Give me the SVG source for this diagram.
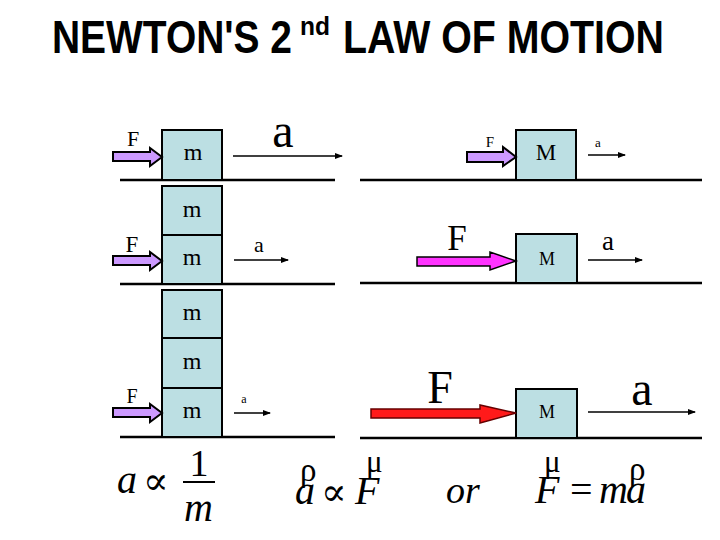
<svg xmlns="http://www.w3.org/2000/svg" width="720" height="540" viewBox="0 0 720 540">
<style>
.title{font-family:"Liberation Sans",Arial,sans-serif;font-weight:bold;fill:#000}
.t{font-family:"Liberation Serif","Times New Roman",serif;fill:#000;text-anchor:middle}
.eq{font-family:"Liberation Serif","Times New Roman",serif;font-style:italic;fill:#000}
.sym{font-family:"Liberation Serif","Times New Roman",serif;fill:#000}
.prop{font-family:"DejaVu Serif","DejaVu Sans",serif;fill:#000}
.blk{fill:#BCDFE3;stroke:#000;stroke-width:2}
.gnd{stroke:#000;stroke-width:2.5}
.thin{stroke:#000;stroke-width:1.5;fill:none;marker-end:url(#ah)}
.pf{fill:#CC99FF;stroke:#000;stroke-width:2}
.mf{fill:#FF33FF;stroke:#000;stroke-width:1.5}
.rf{fill:#FF1A1A;stroke:#600;stroke-width:1.5}
</style>
<defs>
<marker id="ah" markerWidth="8" markerHeight="6" refX="7" refY="3" orient="auto" markerUnits="userSpaceOnUse">
<path d="M0,0 L8,3 L0,6 Z" fill="#000"/>
</marker>
</defs>
<rect width="720" height="540" fill="#fff"/>
<g id="title">
<text class="title" x="52" y="53" font-size="46" textLength="240" lengthAdjust="spacingAndGlyphs">NEWTON'S 2</text>
<text class="title" x="300" y="35" font-size="26" textLength="30" lengthAdjust="spacingAndGlyphs">nd</text>
<text class="title" x="343" y="53" font-size="46" textLength="321" lengthAdjust="spacingAndGlyphs">LAW OF MOTION</text>
</g>
<g id="grounds">
<line class="gnd" x1="120" y1="180" x2="335" y2="180"/>
<line class="gnd" x1="120" y1="284" x2="335" y2="284"/>
<line class="gnd" x1="120" y1="437" x2="335" y2="437"/>
<line class="gnd" x1="360" y1="180" x2="702" y2="180"/>
<line class="gnd" x1="360" y1="283" x2="702" y2="283"/>
<line class="gnd" x1="360" y1="438" x2="702" y2="438"/>
</g>
<g id="block-top-left">
<rect class="blk" x="162" y="130" width="60" height="50"/>
<text class="t" x="193" y="160" font-size="24">m</text>
</g>
<g id="blocks-mid-left">
<rect class="blk" x="162" y="186" width="60" height="49"/>
<text class="t" x="192" y="217" font-size="24">m</text>
<rect class="blk" x="162" y="235" width="60" height="49"/>
<text class="t" x="192" y="265" font-size="24">m</text>
</g>
<g id="blocks-bottom-left">
<rect class="blk" x="162" y="290" width="60" height="48"/>
<text class="t" x="192" y="320" font-size="24">m</text>
<rect class="blk" x="162" y="338" width="60" height="50"/>
<text class="t" x="192" y="369" font-size="24">m</text>
<rect class="blk" x="162" y="388" width="60" height="49"/>
<text class="t" x="192" y="418" font-size="24">m</text>
</g>
<g id="block-top-right">
<rect class="blk" x="516" y="130" width="60" height="50"/>
<text class="t" x="546" y="160" font-size="23">M</text>
</g>
<g id="block-mid-right">
<rect class="blk" x="516" y="234" width="61" height="49"/>
<text class="t" x="547" y="265" font-size="18">M</text>
</g>
<g id="block-bottom-right">
<rect class="blk" x="516" y="389" width="61" height="49"/>
<text class="t" x="547" y="418" font-size="18">M</text>
</g>
<g id="connectors">
<polygon class="pf" points="113,152 150,152 150,148 162,157 150,166 150,161 113,161"/>
<polygon class="pf" points="113,256 150,256 150,252 162,261 150,270 150,265 113,265"/>
<polygon class="pf" points="113,408 150,408 150,404 162,413 150,422 150,417 113,417"/>
<polygon class="pf" points="467,152 503,152 503,147 516,157 503,166 503,162 467,162"/>
<polygon class="mf" points="417,257 490,257 490,252 516,261 490,270 490,266 417,266"/>
<polygon class="rf" points="371,409 480,409 480,405 516,413 480,423 480,418 371,418"/>
<line class="thin" x1="233" y1="156" x2="342" y2="156"/>
<line class="thin" x1="234" y1="260" x2="288" y2="260"/>
<line class="thin" x1="234" y1="413" x2="270" y2="413"/>
<line class="thin" x1="588" y1="155" x2="625" y2="155"/>
<line class="thin" x1="588" y1="260" x2="642" y2="260"/>
<line class="thin" x1="588" y1="412" x2="695" y2="412"/>
</g>
<g id="labels">
<text class="t" x="133" y="146" font-size="22">F</text>
<text class="t" x="283" y="147" font-size="48">a</text>
<text class="t" x="490" y="147" font-size="15">F</text>
<text class="t" x="598" y="147" font-size="13">a</text>
<text class="t" x="132" y="252" font-size="23">F</text>
<text class="t" x="259" y="252" font-size="22">a</text>
<text class="t" x="132" y="403" font-size="20">F</text>
<text class="t" x="244" y="403" font-size="12">a</text>
<text class="t" x="457" y="250" font-size="35">F</text>
<text class="t" x="608" y="250" font-size="27">a</text>
<text class="t" x="440" y="403" font-size="46">F</text>
<text class="t" x="642" y="405" font-size="48">a</text>
</g>
<g id="formulas">
<text class="eq" x="117" y="493" font-size="40">a</text>
<text class="prop" x="143" y="494" font-size="38">∝</text>
<text class="t" x="199" y="476" font-size="38">1</text>
<line x1="183" y1="482" x2="215" y2="482" stroke="#000" stroke-width="2"/>
<text class="eq" x="184" y="521" font-size="40">m</text>
<text class="eq" x="295" y="504" font-size="40">a</text>
<text class="sym" x="300" y="481" font-size="33">ρ</text>
<text class="prop" x="321" y="505" font-size="38">∝</text>
<text class="eq" x="355" y="504" font-size="40">F</text>
<text class="sym" x="366" y="472" font-size="31">μ</text>
<text class="eq" x="446" y="503" font-size="38">or</text>
<text class="eq" x="535" y="503" font-size="40">F</text>
<text class="sym" x="544" y="472" font-size="31">μ</text>
<text class="sym" x="570" y="503" font-size="40">=</text>
<text class="eq" x="599" y="503" font-size="40">m</text>
<text class="eq" x="626" y="503" font-size="40">a</text>
<text class="sym" x="629" y="480" font-size="33">ρ</text>
</g>
</svg>
